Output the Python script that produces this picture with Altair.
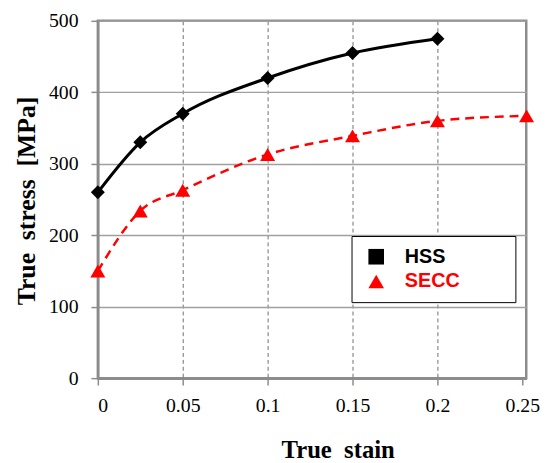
import altair as alt
import pandas as pd

# data
strain_hss = [0, 0.025, 0.05, 0.1, 0.15, 0.2]
stress_hss = [260, 330, 370, 420, 455, 475]
strain_secc = [0, 0.025, 0.05, 0.1, 0.15, 0.2, 0.2525]
stress_secc = [150, 234, 263, 313, 339, 360, 367]
series = ["HSS", "SECC"]
series_colors = ["#000000", "#ff0000"]
legend_shapes = ["square", "triangle-up"]
x_ticks = [0, 0.05, 0.1, 0.15, 0.2, 0.25]
y_ticks = [0, 100, 200, 300, 400, 500]

hss = pd.DataFrame({"strain": strain_hss, "stress": stress_hss, "series": "HSS"})
secc = pd.DataFrame({"strain": strain_secc, "stress": stress_secc, "series": "SECC"})
both = pd.concat([hss, secc], ignore_index=True)

NB = "\u00a0"
ZW = "\u200b"
x_title = "True" + NB + NB + "stain"
y_title = "True" + NB + NB + "stress" + NB + NB + "[MPa]"

SERIF = "Liberation Serif"

x_scale = alt.Scale(domain=[0, 0.2523], nice=False, zero=False)
y_scale = alt.Scale(domain=[0, 500], nice=False)

x_axis = alt.Axis(
    values=x_ticks, format="~g", title=x_title,
    labelFont=SERIF, labelFontSize=20, labelColor="#000000", labelFontWeight="normal",
    titleFont=SERIF, titleFontSize=25, titleFontWeight="bold", titleColor="#000000",
    grid=True, gridDash=[4, 3], gridColor="#707070", gridWidth=1,
    gridOpacity={"condition": {"test": "datum.value >= 0.25 || datum.value <= 0", "value": 0}, "value": 1},
    labelPadding=11, titleX=243, titleY=80, titleBaseline="alphabetic", titleAlign="center",
)
y_axis = alt.Axis(
    values=y_ticks, title=y_title,
    labelFont=SERIF, labelFontSize=20, labelColor="#000000", labelFontWeight="normal",
    titleFont=SERIF, titleFontSize=26, titleFontWeight="bold", titleColor="#000000",
    grid=True, gridColor="#a0a0a0", gridWidth=1.5,
    labelPadding=13, titleX=-72, titleY=182, titleBaseline="middle", titleAlign="center",
    titleAngle=-90,
)

X = alt.X("strain:Q", scale=x_scale, axis=x_axis)
Y = alt.Y("stress:Q", scale=y_scale, axis=y_axis)

line_hss = alt.Chart(hss).mark_line(color="#000000", strokeWidth=3, interpolate="monotone").encode(x=X, y=Y)
pts_hss = alt.Chart(hss).mark_point(shape="diamond", filled=True, color="#000000", size=200, opacity=1).encode(x=X, y=Y)
line_secc = alt.Chart(secc).mark_line(color="#ff0000", strokeWidth=2.5, strokeDash=[9, 6], interpolate="monotone").encode(x=X, y=Y)
pts_secc = alt.Chart(secc).mark_point(shape="triangle-up", filled=True, color="#ff0000", size=230, opacity=1).encode(x=X, y=Y)

legend_kw = dict(
    title=None, orient="none", legendX=257, legendY=218,
    strokeColor="#000000", fillColor="#ffffff", padding=11,
    symbolSize=250, symbolOffset=4, labelOffset=19, rowPadding=5,
    labelFont="Liberation Sans", labelFontWeight="bold", labelFontSize=20,
    labelColor=alt.ExprRef(expr="datum.value == 'SECC' ? '#ff0000' : '#000000'"),
    labelExpr="datum.label + '" + NB * 8 + ZW + "'",
    symbolOpacity=1, symbolStrokeWidth=0,
)

legend_layer = alt.Chart(both).mark_point(filled=True, opacity=0, size=250).encode(
    x=X, y=Y,
    color=alt.Color("series:N", scale=alt.Scale(domain=series, range=series_colors), legend=alt.Legend(**legend_kw)),
    shape=alt.Shape("series:N", scale=alt.Scale(domain=series, range=legend_shapes), legend=alt.Legend(**legend_kw)),
)

chart = alt.layer(line_hss, line_secc, pts_hss, pts_secc, legend_layer).properties(
    width=434, height=362,
    padding={"left": 6, "top": 0, "right": 5, "bottom": 0},
).configure_view(
    stroke="#8c8c8c", strokeWidth=2.5
).configure_axis(
    domainColor="#8c8c8c", domainWidth=2.5,
    tickColor="#8c8c8c", tickWidth=1.5, tickSize=7,
)

chart.save("out.html", embed_options={"renderer": "svg", "actions": False})
